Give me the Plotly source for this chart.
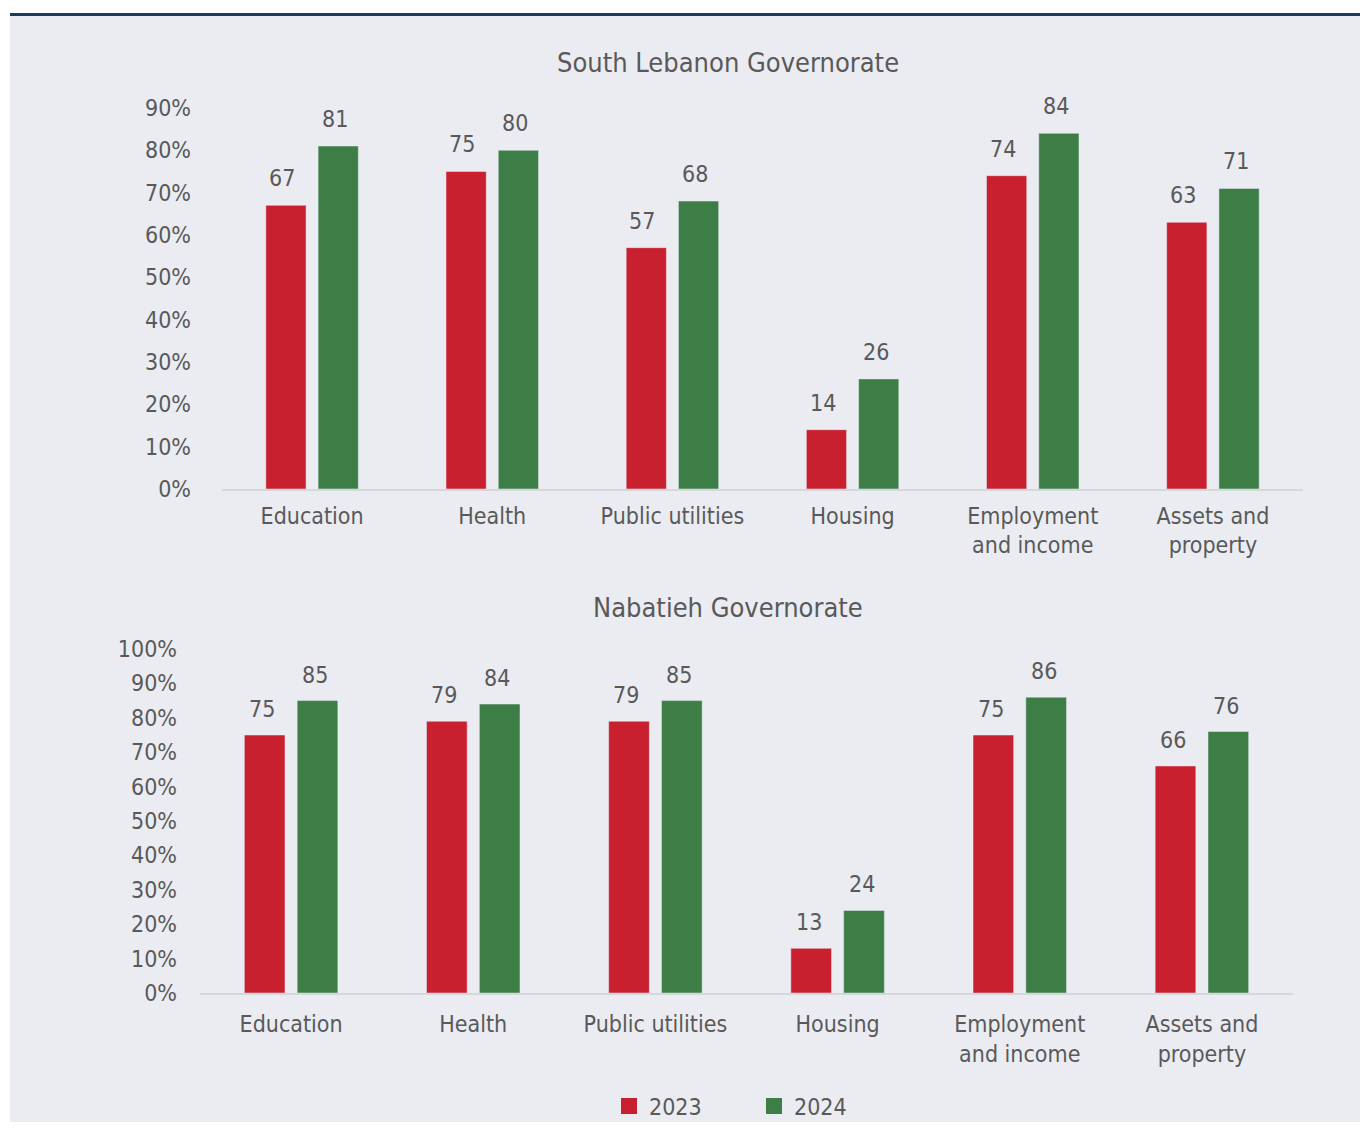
import plotly.graph_objects as go

categories = ["Education", "Health", "Public utilities", "Housing",
              "Employment<br>and income", "Assets and<br>property"]
south_2023 = [67, 75, 57, 14, 74, 63]
south_2024 = [81, 80, 68, 26, 84, 71]
nab_2023 = [75, 79, 79, 13, 75, 66]
nab_2024 = [85, 84, 85, 24, 86, 76]
years = ["2023", "2024"]
titles = ["South Lebanon Governorate", "Nabatieh Governorate"]

RED = "#C8202F"
GREEN = "#3D7D46"
BG = "#EBECF1"
TXT = "#595959"
FONT = "DejaVu Sans Condensed, Roboto, sans-serif"
W, H = 1360, 1135
S = 0.977  # vertical compensation for the photographed page


def fy(y_px):
    """paper fraction for a target pixel row (measured from the top)"""
    yf = H / 2 + (y_px - H / 2) / S
    yf = min(max(yf, 0), H)
    return 1 - yf / H


fig = go.Figure()

fig.add_trace(go.Bar(x=categories, y=south_2023, name=years[0], marker_color=RED,
                     xaxis="x", yaxis="y", showlegend=False))
fig.add_trace(go.Bar(x=categories, y=south_2024, name=years[1], marker_color=GREEN,
                     xaxis="x", yaxis="y", showlegend=False))
fig.add_trace(go.Bar(x=categories, y=nab_2023, name=years[0], marker_color=RED,
                     xaxis="x2", yaxis="y2", showlegend=False))
fig.add_trace(go.Bar(x=categories, y=nab_2024, name=years[1], marker_color=GREEN,
                     xaxis="x2", yaxis="y2", showlegend=False))
# legend entries with larger square swatches
for name, col in zip(years, [RED, GREEN]):
    fig.add_trace(go.Scatter(x=[None], y=[None], mode="markers", name=name,
                             marker=dict(symbol="square", size=16, color=col),
                             xaxis="x2", yaxis="y2"))

annotations = []
for (xr, yr, s23, s24, ysh, xs) in [("x", "y", south_2023, south_2024, 27, (-30, 23)),
                                     ("x2", "y2", nab_2023, nab_2024, 26, (-29, 24))]:
    for c, v in zip(categories, s23):
        annotations.append(dict(x=c, y=v, xref=xr, yref=yr, text=str(v), showarrow=False,
                                xshift=xs[0], yshift=ysh, yanchor="middle",
                                font=dict(size=23, color=TXT, family=FONT)))
    for c, v in zip(categories, s24):
        annotations.append(dict(x=c, y=v, xref=xr, yref=yr, text=str(v), showarrow=False,
                                xshift=xs[1], yshift=ysh, yanchor="middle",
                                font=dict(size=23, color=TXT, family=FONT)))

annotations.append(dict(x=728 / W, y=fy(63), xref="paper", yref="paper", text=titles[0],
                        showarrow=False, xanchor="center", yanchor="middle",
                        font=dict(size=27, color=TXT, family=FONT)))
annotations.append(dict(x=728 / W, y=fy(607), xref="paper", yref="paper", text=titles[1],
                        showarrow=False, xanchor="center", yanchor="middle",
                        font=dict(size=27, color=TXT, family=FONT)))

axis_font = dict(size=23, color=TXT, family=FONT)

fig.update_layout(
    width=W, height=H,
    margin=dict(l=0, r=0, t=0, b=0),
    paper_bgcolor="white",
    plot_bgcolor=BG,
    barmode="group",
    bargap=0.42,
    bargroupgap=0.23,
    font=dict(family=FONT, color=TXT),
    annotations=annotations,
    xaxis=dict(domain=[222 / W, 1303 / W], anchor="y", showgrid=False, showline=True,
               linecolor="#D6D7DB", linewidth=2, ticks="", tickfont=axis_font,
               ticklabelstandoff=5),
    yaxis=dict(domain=[fy(489), fy(108)], anchor="x", range=[0, 90], dtick=10,
               ticksuffix="%", showgrid=False, zeroline=False, showline=False,
               tickfont=axis_font, ticklabelstandoff=30),
    xaxis2=dict(domain=[200 / W, 1293 / W], anchor="y2", showgrid=False, showline=True,
                linecolor="#D6D7DB", linewidth=2, ticks="", tickfont=axis_font,
                ticklabelstandoff=9),
    yaxis2=dict(domain=[fy(993), fy(649)], anchor="x2", range=[0, 100], dtick=10,
                ticksuffix="%", showgrid=False, zeroline=False, showline=False,
                tickfont=axis_font, ticklabelstandoff=22),
    legend=dict(orientation="h", x=609 / W, xanchor="left", y=fy(1106), yanchor="middle",
                font=dict(size=23, color=TXT, family=FONT), entrywidth=100,
                entrywidthmode="pixels", bgcolor="rgba(0,0,0,0)", traceorder="normal",
                itemwidth=30),
    shapes=[
        dict(type="rect", xref="paper", yref="paper", x0=10 / W, x1=1, y0=0, y1=1,
             fillcolor=BG, line_width=0, layer="below"),
        dict(type="line", xref="paper", yref="paper", x0=10 / W, x1=1, y0=1 - 1.5 / H,
             y1=1 - 1.5 / H, line=dict(color="#1F3B5C", width=3)),
    ],
)

post = ("document.body.style.margin='0';document.body.style.overflow='hidden';"
        "var d=document.getElementById('{plot_id}');"
        "d.style.position='fixed';d.style.top='0px';d.style.left='0px';")
fig.write_html("out.html", config={"displayModeBar": False}, post_script=post)
